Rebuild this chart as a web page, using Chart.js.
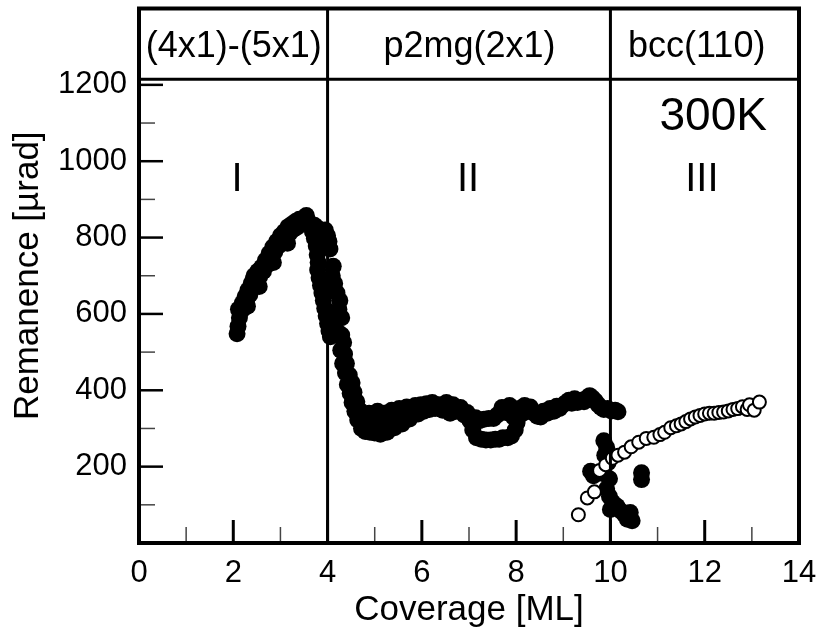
<!DOCTYPE html>
<html><head><meta charset="utf-8">
<script src="https://cdn.jsdelivr.net/npm/chart.js@4.4.1/dist/chart.umd.min.js"></script>
<style>html,body{margin:0;padding:0;background:#fff;}canvas{display:block;}</style>
</head><body>
<canvas id="c" width="820" height="638"></canvas>
<script>
// ---- data (coverage [ML], remanence [µrad]) ----
const filledSeries = [
  [2.08,548],[2.10,568],[2.13,590],[2.11,612],[2.16,605],[2.19,628],[2.22,615],[2.25,645],[2.28,632],[2.31,662],
  [2.35,650],[2.38,680],[2.42,668],[2.44,700],[2.48,688],[2.52,712],[2.56,698],[2.60,722],[2.64,712],[2.68,740],
  [2.72,728],[2.76,758],[2.80,745],[2.84,775],[2.88,762],[2.92,790],[2.96,778],[3.00,805],[3.04,792],[3.08,815],
  [3.12,802],[3.16,828],[3.20,812],[3.24,835],[3.28,822],[3.32,842],[3.36,828],[3.40,848],[3.45,838],[3.50,852],
  [3.55,858],[3.58,845],[3.62,838],[3.66,828],[3.72,832],[3.78,826],[3.84,818],[3.90,812],[3.95,820],[4.00,805],
  [4.03,790],[2.30,620],[2.42,690],[2.55,672],[2.85,735],[3.15,785],
  [3.68,815],[3.72,798],[3.76,778],[3.78,755],[3.80,735],[3.79,715],[3.82,695],[3.85,675],[3.88,655],[3.91,635],
  [3.94,615],[3.97,595],[4.00,575],[4.03,555],[4.06,540],[4.05,770],[4.12,725],[4.10,700],[4.15,680],[4.20,655],
  [4.26,635],[4.24,612],[4.30,590],[4.08,585],[4.15,565],[4.22,552],[4.30,545],[4.34,525],[4.28,505],[4.36,495],
  [4.32,470],[4.40,470],[4.38,445],[4.46,440],[4.42,415],[4.52,420],[4.48,392],[4.56,395],[4.52,368],[4.62,370],
  [4.58,345],[4.68,348],[4.64,322],[4.74,325],[4.72,300],[4.82,315],[4.80,292],[4.88,340],[4.90,290],[4.95,315],
  [5.00,288],[5.02,320],[5.06,345],[5.12,285],[5.16,312],[5.20,340],[5.26,290],[5.30,322],[5.36,348],[5.42,302],
  [5.46,330],[5.52,352],[5.58,312],[5.62,340],[5.68,356],[5.74,325],[5.80,348],[5.86,360],[5.92,338],[5.98,362],
  [6.04,345],[6.10,365],[6.16,350],[6.22,368],[6.28,352],[6.36,362],[6.44,348],[6.52,368],[6.60,340],[6.66,362],
  [6.74,345],[6.82,355],[6.90,335],
  [6.96,342],[7.02,320],[7.08,296],[7.14,328],[7.16,276],[7.22,320],[7.26,272],[7.32,324],[7.36,270],[7.42,326],
  [7.46,270],[7.52,326],[7.56,272],[7.60,335],[7.64,272],[7.70,355],[7.72,276],[7.78,342],[7.82,276],[7.86,360],
  [7.90,280],[7.94,330],[7.98,296],[8.02,315],[8.06,352],[8.12,338],[8.18,360],[8.24,345],[8.30,356],[8.38,340],
  [8.45,332],[8.52,330],[8.58,345],[8.66,340],[8.72,352],[8.80,345],[8.86,358],[8.92,352],[9.00,362],[9.06,368],
  [9.12,374],[9.18,366],[9.24,378],[9.30,368],[9.38,374],[9.44,370],[9.50,380],[9.56,386],[9.62,380],[9.68,372],
  [9.74,362],[9.80,355],[9.86,350],[9.94,352],[10.02,346],[10.10,348],[10.16,344],
  [9.58,188],[9.64,176],[9.86,268],[9.92,250],[9.88,230],[9.95,210],[9.84,182],[9.98,168],[9.92,142],[9.98,122],
  [10.05,106],[10.00,88],[10.14,96],[10.22,84],[10.30,74],[10.36,62],[10.42,80],[10.46,58],[10.66,184],[10.66,166]
];
const openSeries = [
  [9.32,74],[9.51,118],[9.66,134],[9.77,190],[9.90,205],[10.04,222],[10.16,230],[10.30,238],[10.44,252],[10.60,264],
  [10.76,274],[10.92,277],[11.05,284],[11.15,290],[11.28,302],[11.40,307],[11.50,312],[11.60,318],[11.70,325],[11.80,330],
  [11.90,334],[12.00,338],[12.10,340],[12.20,340],[12.30,342],[12.40,343],[12.50,346],[12.60,350],[12.70,352],[12.80,357],
  [12.90,350],[12.95,362],[13.05,348],[13.16,369]
];
const xTickValues = [0,2,4,6,8,10,12,14];
const yTickValues = [200,400,600,800,1000,1200];
const phaseBoundaries = [4,10];
const phaseLabels = ['(4x1)-(5x1)','p2mg(2x1)','bcc(110)'];
const regionLabels = ['I','II','III'];
const temperatureLabel = '300K';
const xTitle = 'Coverage [ML]';
const yTitle = 'Remanence [µrad]';

const FONT = '"Liberation Sans", Arial, Helvetica, sans-serif';

const decor = {
  id: 'decor',
  afterDatasetsDraw(chart, args, o) {
    const {ctx, chartArea: a, scales: {x, y}} = chart;
    ctx.save();
    ctx.strokeStyle = '#000';
    ctx.fillStyle = '#000';
    ctx.lineCap = 'butt';
    const seg = (x1, y1, x2, y2, w) => {
      ctx.lineWidth = w; ctx.beginPath(); ctx.moveTo(x1, y1); ctx.lineTo(x2, y2); ctx.stroke();
    };
    const hy = y.getPixelForValue(o.headerLevel);
    seg(a.left, hy, a.right, hy, 3);
    phaseBoundaries.forEach(b => {
      const px = x.getPixelForValue(b);
      seg(px, a.top, px, a.bottom, 3);
    });
    for (let v = 0; v <= 14; v++) {
      const px = x.getPixelForValue(v);
      const major = v % 2 === 0;
      ctx.strokeStyle = major ? '#000' : '#444';
      seg(px, a.bottom, px, a.bottom - (major ? 23 : 16), major ? 3 : 1.5);
    }
    for (let v = 0; v <= 1200; v += 100) {
      const py = y.getPixelForValue(v);
      const major = v % 200 === 0;
      ctx.strokeStyle = major ? '#000' : '#444';
      seg(a.left, py, a.left + (major ? 24 : 16), py, major ? 2.5 : 1.5);
    }
    ctx.strokeStyle = '#000';
    ctx.lineWidth = 4;
    ctx.strokeRect(a.left, a.top, a.right - a.left, a.bottom - a.top);
    ctx.textAlign = 'center';
    ctx.textBaseline = 'alphabetic';
    ctx.font = '36px ' + FONT;
    phaseLabels.forEach((t, i) => {
      ctx.fillText(t, x.getPixelForValue(o.phaseLabelX[i]), y.getPixelForValue(o.phaseLabelY));
    });
    ctx.font = '40px ' + FONT;
    regionLabels.forEach((t, i) => {
      ctx.fillText(t, x.getPixelForValue(o.regionLabelX[i]), y.getPixelForValue(o.regionLabelY));
    });
    ctx.font = '46px ' + FONT;
    ctx.fillText(temperatureLabel, x.getPixelForValue(o.tempX), y.getPixelForValue(o.tempY));
    ctx.restore();
  }
};

new Chart(document.getElementById('c'), {
  type: 'scatter',
  data: {
    datasets: [
      {
        label: 'open',
        data: openSeries.map(([cx, cy]) => ({x: cx, y: cy})),
        pointRadius: 6.5,
        pointBorderWidth: 2,
        pointBackgroundColor: '#fff',
        pointBorderColor: '#000',
        showLine: false
      },
      {
        label: 'filled',
        data: filledSeries.map(([cx, cy]) => ({x: cx, y: cy})),
        pointRadius: 8.5,
        pointBorderWidth: 0,
        pointBackgroundColor: '#000',
        pointBorderColor: '#000',
        showLine: false
      }
    ]
  },
  options: {
    responsive: false,
    animation: false,
    devicePixelRatio: 1,
    layout: {padding: {top: 8, right: 21, left: 0, bottom: 0}},
    plugins: {
      legend: {display: false},
      tooltip: {enabled: false},
      decor: {
        headerLevel: 1215,
        phaseLabelX: [2.01, 7.01, 11.83],
        phaseLabelY: 1272,
        regionLabelX: [2.08, 6.98, 11.94],
        regionLabelY: 923,
        tempX: 12.18,
        tempY: 1083
      }
    },
    scales: {
      x: {
        type: 'linear',
        min: 0, max: 14,
        afterBuildTicks: s => { s.ticks = xTickValues.map(v => ({value: v})); },
        afterFit: s => { s.height = 95; s.paddingLeft = 0; s.paddingRight = 0; },
        grid: {display: false, drawTicks: false},
        border: {display: false},
        ticks: {color: '#000', padding: 12, maxRotation: 0, font: {size: 31, family: FONT}, callback: v => String(v)},
        title: {display: true, text: xTitle, color: '#000', padding: {top: 0, bottom: 7}, font: {size: 35, family: FONT}}
      },
      y: {
        type: 'linear',
        min: 0, max: 1400,
        afterBuildTicks: s => { s.ticks = yTickValues.map(v => ({value: v})); },
        afterFit: s => { s.width = 139; s.paddingTop = 0; s.paddingBottom = 0; },
        grid: {display: false, drawTicks: false},
        border: {display: false},
        ticks: {color: '#000', padding: 12, font: {size: 31, family: FONT}, callback: v => String(v)},
        title: {display: true, text: yTitle, color: '#000', padding: {top: 7, bottom: 0}, font: {size: 35, family: FONT}}
      }
    }
  },
  plugins: [decor]
});
</script>
</body></html>
